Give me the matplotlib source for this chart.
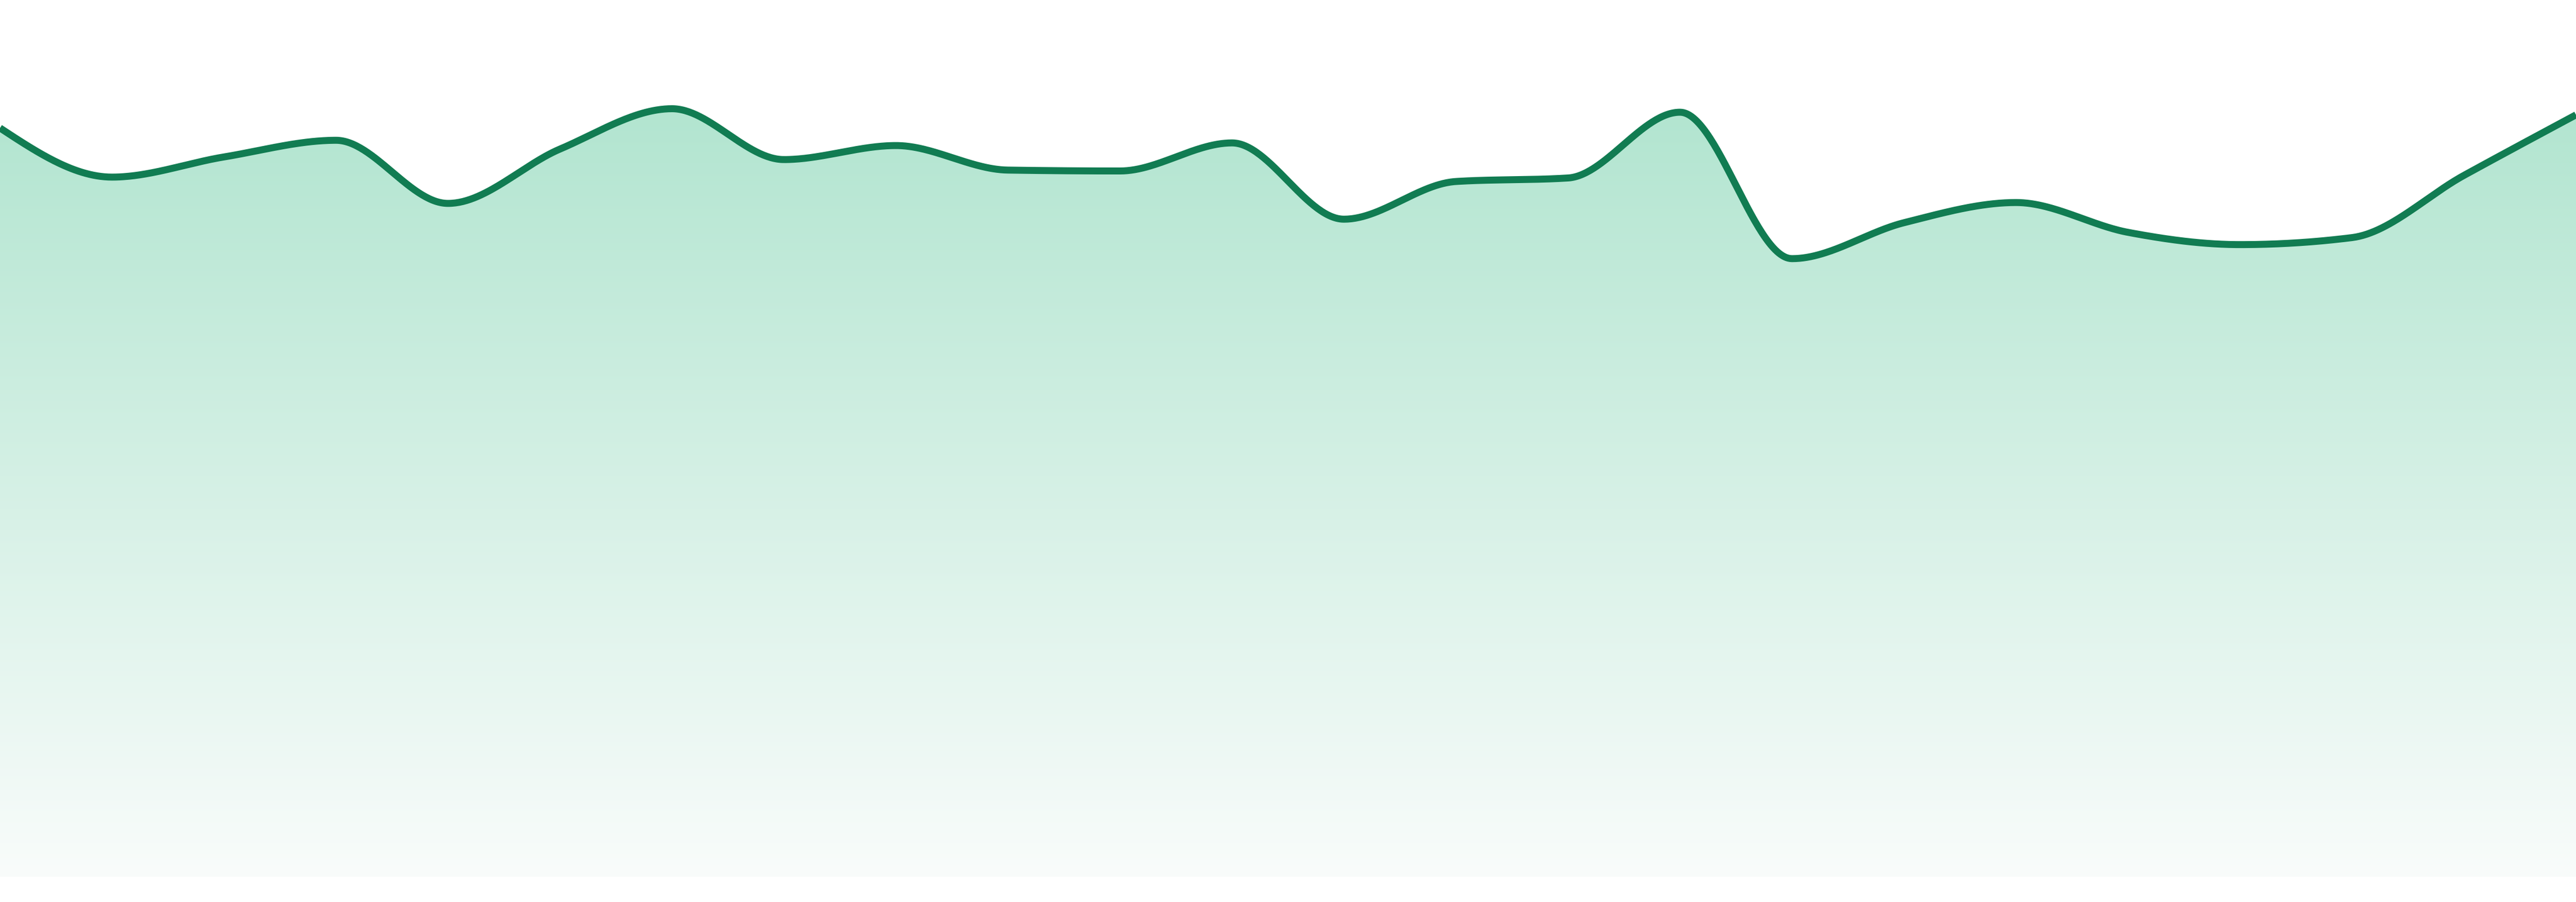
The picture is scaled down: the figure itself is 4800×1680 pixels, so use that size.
import numpy as np
import matplotlib
matplotlib.use("Agg")
import matplotlib.pyplot as plt
from matplotlib.patches import Polygon

# ---- data ----
index = list(range(24))
values = [85.4, 79.8, 82.1, 84.0, 76.8, 83.0, 87.6, 81.8, 83.4, 80.6, 80.5, 83.7,
          75.0, 79.3, 79.7, 87.2, 70.5, 74.6, 76.9, 73.5, 72.1, 72.9, 80.0, 86.9]

line_color = "#117c52"
fill_top = np.array([178, 229, 208]) / 255.0
fill_bottom = np.array([249, 252, 251]) / 255.0


def monotone_x(x, y, n=60):
    x = np.asarray(x, float)
    y = np.asarray(y, float)
    h = np.diff(x)
    s = np.diff(y) / h
    t = np.zeros(len(x))
    for i in range(1, len(x) - 1):
        h0, h1, s0, s1 = h[i - 1], h[i], s[i - 1], s[i]
        p = (s0 * h1 + s1 * h0) / (h0 + h1)
        t[i] = (np.sign(s0) + np.sign(s1)) * min(abs(s0), abs(s1), 0.5 * abs(p))
    t[0] = (3 * s[0] - t[1]) / 2
    t[-1] = (3 * s[-1] - t[-2]) / 2
    xs, ys = [], []
    for i in range(len(x) - 1):
        u = np.linspace(0, 1, n, endpoint=(i == len(x) - 2))
        hh = h[i]
        h00 = 2 * u**3 - 3 * u**2 + 1
        h10 = u**3 - 2 * u**2 + u
        h01 = -2 * u**3 + 3 * u**2
        h11 = u**3 - u**2
        xs.append(x[i] + u * hh)
        ys.append(h00 * y[i] + h10 * hh * t[i] + h01 * y[i + 1] + h11 * hh * t[i + 1])
    return np.concatenate(xs), np.concatenate(ys)


W, H, DPI = 4800, 1680, 300
fig = plt.figure(figsize=(W / DPI, H / DPI), dpi=DPI)
ax = fig.add_axes([0, 0, 1, 1])
ymax = 100.0
ymin = -47.0 / 1633.0 * 100.0
ax.set_xlim(index[0], index[-1])
ax.set_ylim(ymin, ymax)
ax.axis("off")

xs, ys = monotone_x(index, values)

# gradient fill under the curve
top_v = ys.max()
ny = 512
frac = np.linspace(0, 1, ny)[:, None]  # 0 at bottom (value 0), 1 at top_v
grad = fill_bottom[None, :] * (1 - frac) + fill_top[None, :] * frac
grad = np.repeat(grad[:, None, :], 2, axis=1)
im = ax.imshow(grad, extent=[index[0], index[-1], 0, top_v], origin="lower",
               aspect="auto", interpolation="bilinear", zorder=1)
poly_pts = np.vstack([np.column_stack([xs, ys]),
                      [[xs[-1], 0], [xs[0], 0]]])
clip = Polygon(poly_pts, closed=True, transform=ax.transData, facecolor="none", edgecolor="none")
ax.add_patch(clip)
im.set_clip_path(clip)

ax.plot(xs, ys, color=line_color, linewidth=13 * 72 / DPI, zorder=3,
        solid_joinstyle="round", solid_capstyle="butt")

fig.savefig("out.png", dpi=DPI, facecolor="white")
